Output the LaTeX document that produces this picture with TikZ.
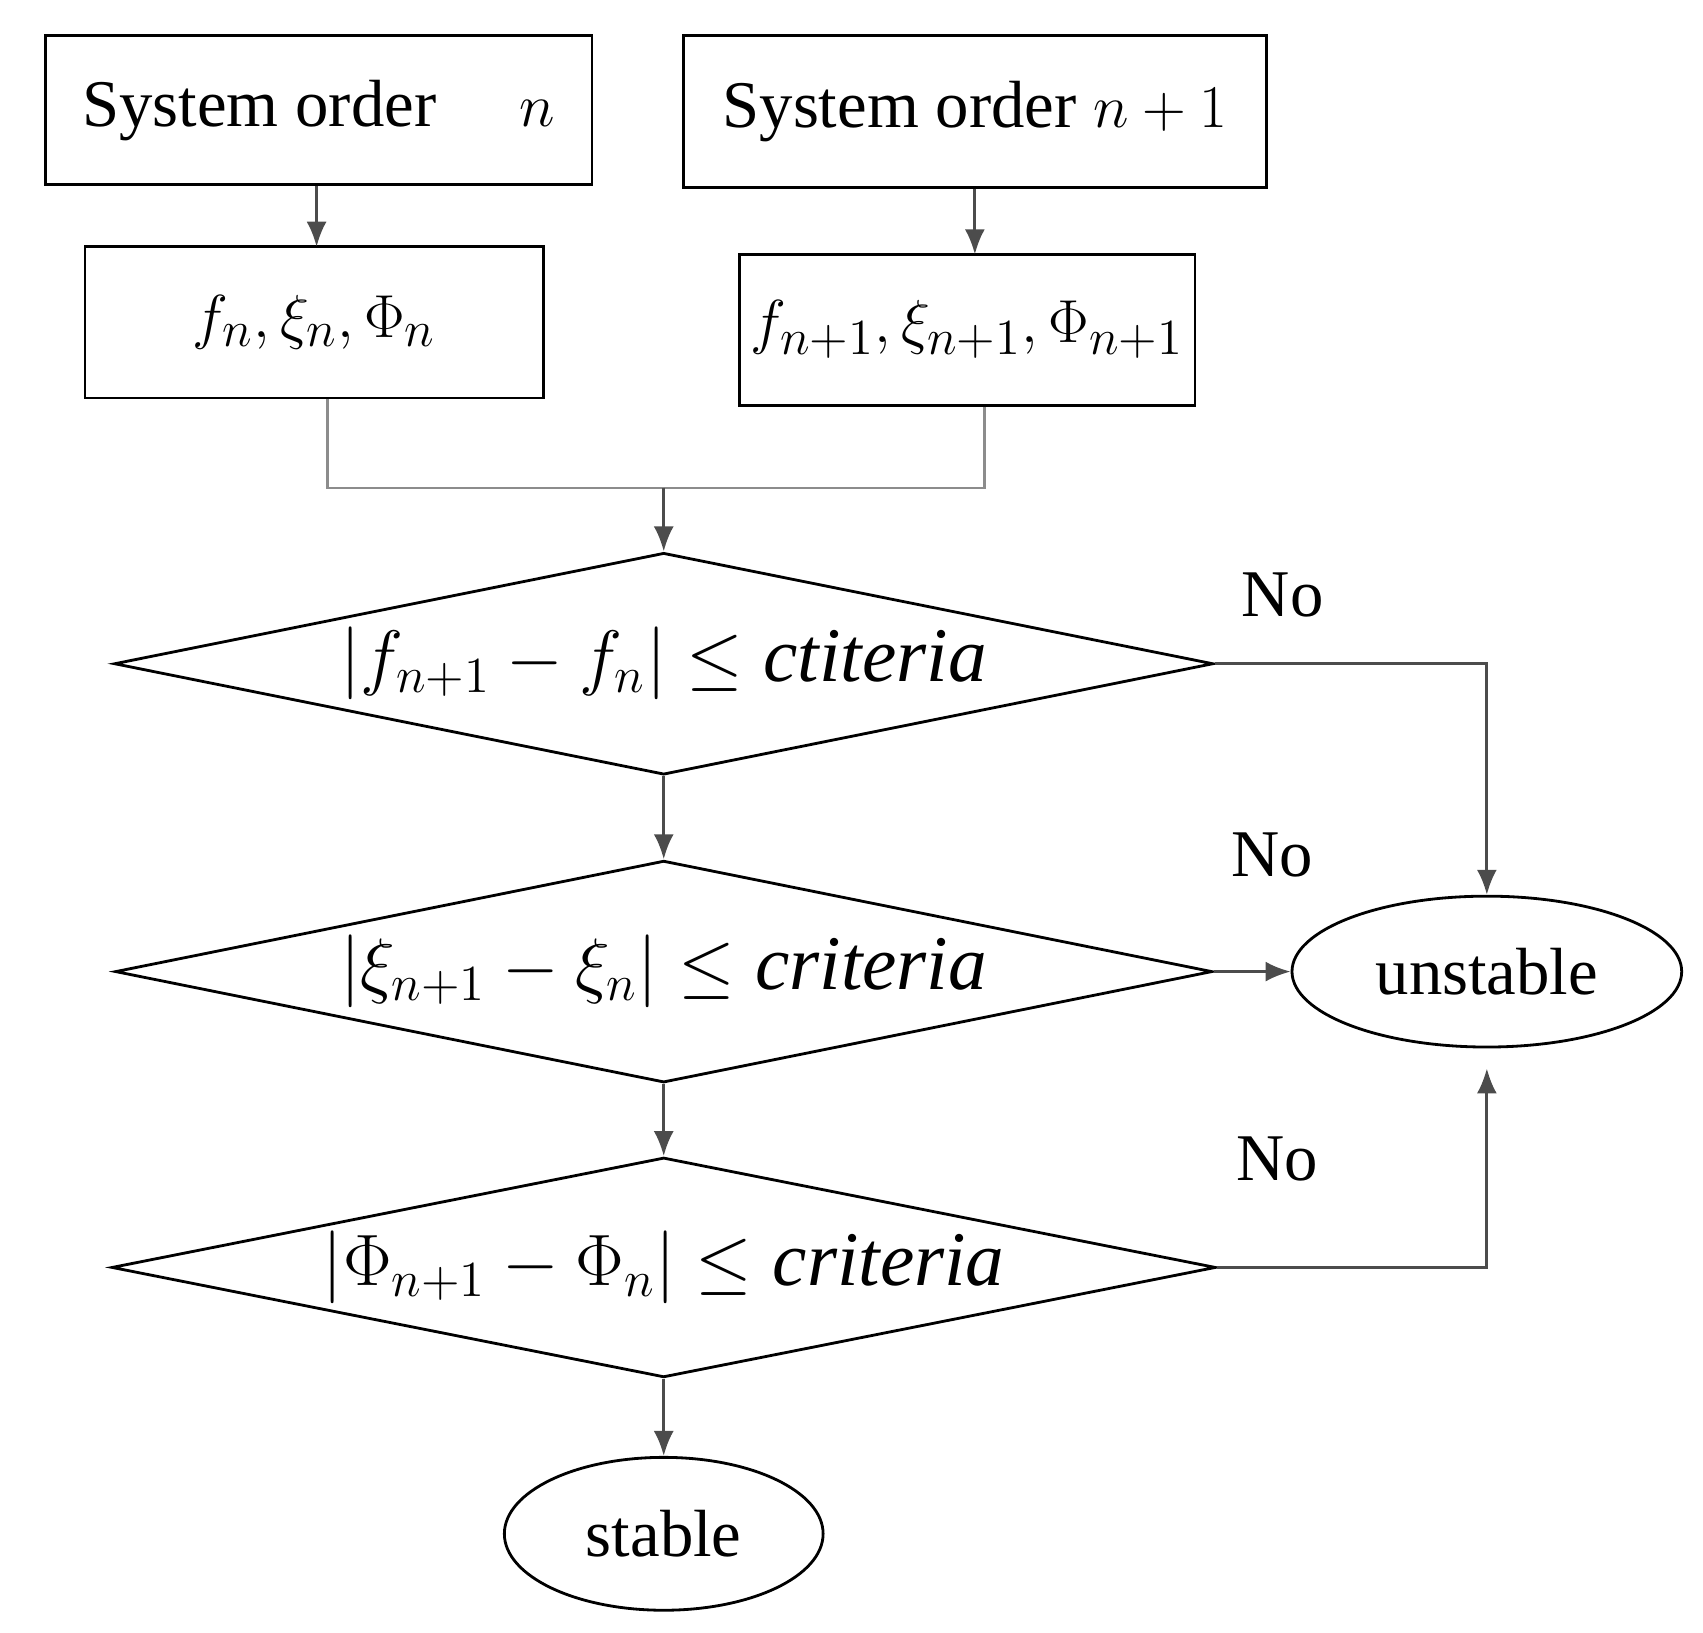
\documentclass[tikz,border=0pt]{standalone}
\usepackage{fontspec}
\setmainfont{Liberation Serif}
\usepackage{amsmath}
\usetikzlibrary{shapes.geometric, arrows.meta}

\begin{document}
\begin{tikzpicture}[
    x=0.01092cm, y=-0.01092cm,
    block/.style={rectangle, draw=black, thick, fill=none, text centered, text=black,
        inner sep=0pt, font=\fontsize{19}{22}\selectfont},
    question/.style={diamond, aspect=5, draw=black, thick, fill=none, text=black, inner sep=0pt,
        font=\fontsize{22}{26}\selectfont},
    result/.style={ellipse, draw=black, thick, fill=none, text centered, text=black,
        inner sep=0pt, font=\fontsize{19}{22}\selectfont},
    answer/.style={draw=none, fill=none, text=black, font=\fontsize{19}{22}\selectfont},
    link/.style={draw=black!45, thick},
    arrow/.style={draw=black!70, thick, -{Latex[length=2.5mm, width=2mm]}}
]
\useasboundingbox (0,0) rectangle (1560,1495);

\node (B1) [block, minimum width=5.47cm, minimum height=1.49cm] at (292,101) {System order \quad $n$};
\node (B2) [block, minimum width=5.83cm, minimum height=1.52cm] at (893,102) {System order $n+1$};
\node (B3) [block, minimum width=4.59cm, minimum height=1.52cm] at (288,295) {$f_n,\xi_n,\Phi_n$};
\node (B4) [block, minimum width=4.56cm, minimum height=1.51cm] at (886,302) {$f_{n+1},\xi_{n+1},\Phi_{n+1}$};

\node (Q1) [question, minimum width=11cm, minimum height=2.22cm] at (608,608) {$\left|f_{n+1}-f_n\right|\le \mathit{ctiteria}$};
\node (Q2) [question, minimum width=10.98cm, minimum height=2.22cm] at (608,890) {$\left|\xi_{n+1}-\xi_n\right|\le \mathit{criteria}$};
\node (Q3) [question, minimum width=11.05cm, minimum height=2.2cm] at (608,1161) {$\left|\Phi_{n+1}-\Phi_n\right|\le \mathit{criteria}$};

\node (R1) [result, minimum width=3.9cm, minimum height=1.51cm] at (1362,890) {unstable};
\node (R2) [result, minimum width=3.19cm, minimum height=1.53cm] at (608,1405) {stable};

\node (A1) [answer] at (1175,545) {No};
\node (A2) [answer] at (1165,783) {No};
\node (A3) [answer] at (1170,1062) {No};

\coordinate (M) at (608,447);

% top part
\draw [arrow] (B1.south -| 290,0) -- (290,226);
\draw [arrow] (B2.south -| 893,0) -- (893,233);
\draw [link] (B3.south -| 300,0) |- (M) -| (B4.south -| 902,0);
\draw [arrow] (M) -- (Q1.north);
% checks
\draw [arrow] (Q1.south) -- (Q2.north);
\draw [arrow] (Q2.south) -- (Q3.north);
\draw [arrow] (Q3.south) -- (R2.north);
% no branches
\draw [arrow] (Q1.east) -| (R1.north);
\draw [arrow] (Q2.east) -- (R1.west);
\draw [arrow] (Q3.east) -| ([yshift=-0.2cm]R1.south);
\end{tikzpicture}
\end{document}
